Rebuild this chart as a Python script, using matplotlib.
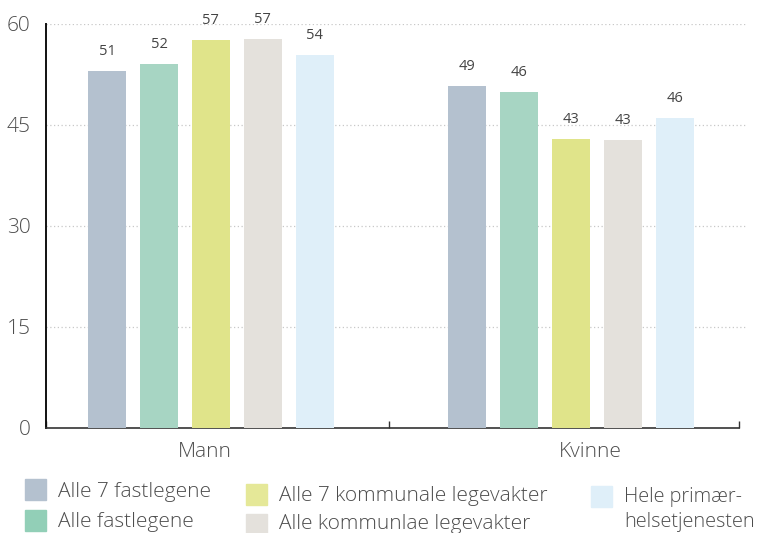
import matplotlib
matplotlib.use("Agg")
import matplotlib.pyplot as plt
from matplotlib.patches import Rectangle

plt.rcParams['font.family'] = ['Open Sans', 'DejaVu Sans']
plt.rcParams['font.weight'] = 'light'

categories = ["Mann", "Kvinne"]
series = ["Alle 7 fastlegene", "Alle fastlegene", "Alle 7 kommunale legevakter",
          "Alle kommunlae legevakter", "Hele primær-\nhelsetjenesten"]
# bar heights as drawn
mann_heights = [53.0, 54.0, 57.6, 57.7, 55.3]
kvinne_heights = [50.7, 49.9, 42.9, 42.7, 46.0]
# printed value labels
mann_labels = ["51", "52", "57", "57", "54"]
kvinne_labels = ["49", "46", "43", "43", "46"]
colors = ["#B4C1CF", "#A7D5C3", "#E0E48A", "#E4E1DC", "#DFEFF9"]
legend_colors = ["#B4C1CF", "#92CFB7", "#E5E898", "#E4E1DC", "#DFEFF9"]
yticks = [0, 15, 30, 45, 60]

W, H = 759, 533
fig = plt.figure(figsize=(W / 100, H / 100), dpi=100)
ax_left, ax_right = 46, 746
y0, y60 = 427.5, 23.7
ax = fig.add_axes([ax_left / W, (H - y0) / H, (ax_right - ax_left) / W, (y0 - y60) / H])
ax.set_ylim(0, 60)
ax.set_xlim(0, 2.0202)

group_centers = [0.476, 1.515]
step = 0.15
width = 0.11
heights = [mann_heights, kvinne_heights]
labels = [mann_labels, kvinne_labels]
for g, gc in enumerate(group_centers):
    for i in range(len(series)):
        x = gc + (i - 2) * step
        ax.bar(x, heights[g][i], width=width, color=colors[i], zorder=3)
        ax.annotate(labels[g][i], (x, heights[g][i]), xytext=(0, 14),
                    textcoords='offset points', ha='center', va='center',
                    fontsize=10.5, fontweight='normal', color='#444444')

for yv in yticks[1:]:
    ax.axhline(yv, color='#C8C8C8', lw=0.9, ls=(0, (1, 2)), zorder=1)

ax.set_yticks(yticks)
ax.set_yticklabels([str(v) for v in yticks], fontsize=15, color='#4d4d4d')
ax.tick_params(axis='y', length=0, pad=11)

ax.set_xticks([0, 0.99, 2])
ax.set_xticklabels([])
ax.tick_params(axis='x', direction='in', length=5, color='#333333', width=1)

def fx(px):
    return px / W

def fy(py):
    return (H - py) / H

for xc, name in zip([205, 590], categories):
    fig.text(fx(xc), fy(457), name, ha='center', va='baseline', fontsize=15,
             color='#4d4d4d')

for s in ['top', 'right']:
    ax.spines[s].set_visible(False)
ax.spines['left'].set_color('#111111')
ax.spines['left'].set_linewidth(1.4)
ax.spines['bottom'].set_color('#333333')
ax.spines['bottom'].set_linewidth(1.2)
ax.spines['bottom'].set_bounds(0, 2)

# legend: (square x, square center y, text x, text baseline y, font size)
leg_pos = [(25, 489, 58, 497, 15), (25, 520, 58, 527, 15), (246, 494, 279, 501, 15),
           (246, 524, 279, 529, 15), (591, 496, 624, 502, 14.3)]
sq = 21
for i, (sx, sy, tx, ty, fs) in enumerate(leg_pos):
    fig.patches.append(Rectangle((fx(sx), fy(sy + sq / 2)), sq / W, sq / H,
                                 transform=fig.transFigure, color=legend_colors[i],
                                 figure=fig))
    for k, line in enumerate(series[i].split("\n")):
        fig.text(fx(tx), fy(ty + 25 * k), line, ha='left', va='baseline',
                 fontsize=fs, color='#4d4d4d')

fig.savefig("out.png", dpi=100)
